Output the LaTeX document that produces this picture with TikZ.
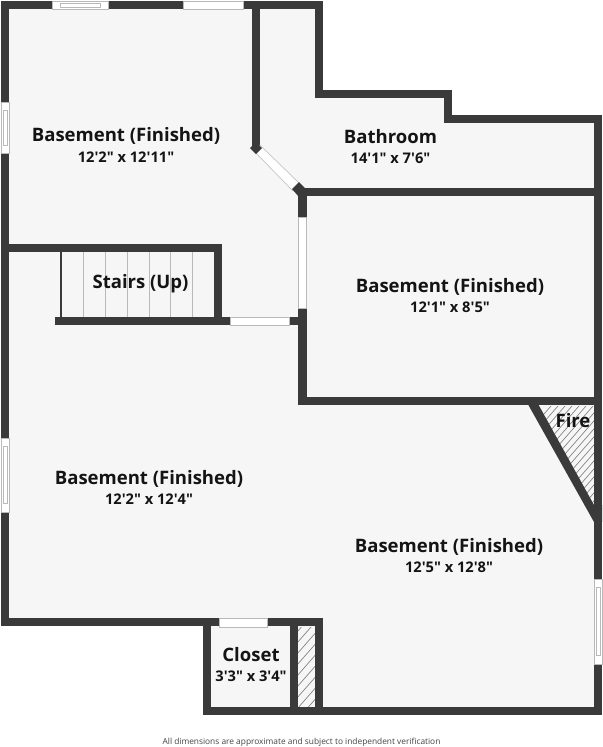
\documentclass[tikz,border=0pt]{standalone}
\usepackage{fontspec}
\setmainfont{Open Sans}[Ligatures=TeXOff]
\definecolor{wallgray}{RGB}{58,58,58}
\definecolor{floorgray}{RGB}{246,246,246}
\definecolor{edgegray}{RGB}{185,185,185}
\definecolor{textblack}{RGB}{20,20,20}
\tikzset{
  wall/.style={line width=6.4pt, draw=wallgray, line join=miter, line cap=butt},
  opening/.style={fill=white, draw=edgegray, line width=0.4pt},
  tread/.style={draw=edgegray, line width=0.6pt},
  hatchline/.style={draw=gray, line width=0.5pt},
  roomname/.style={font=\bfseries\fontsize{13.9}{15}\selectfont, text=textblack, inner sep=0pt},
  roomsize/.style={font=\bfseries\fontsize{11}{12}\selectfont, text=textblack, inner sep=0pt},
}
\begin{document}
\begin{tikzpicture}[x=0.75pt, y=-0.75pt]
  \useasboundingbox (0,0) rectangle (603,747);

  % floor
  \fill [floorgray] (5,5) -- (319,5) -- (319,94) -- (448,94) -- (448,119) -- (598,119)
    -- (598,711) -- (207,711) -- (207,622) -- (5,622) -- cycle;

  % hatched spaces
  \begin{scope}
    \clip (298,627) rectangle (315,707);
    \foreach \s in {0,11,...,121} \draw [hatchline] (290,640+\s) -- (325,600+\s);
  \end{scope}
  \begin{scope}
    \clip (537,406) -- (594,406) -- (594,505) -- cycle;
    \foreach \s in {0,8,...,176} \draw [hatchline] (530,430+\s) -- (600,350+\s);
  \end{scope}

  % stair treads
  \foreach \x in {83.3,105.3,127.3,149,170.7,192.7} \draw [tread] (\x,252) -- (\x,317);

  % outer walls
  \draw [wall] (5,5) -- (319,5) -- (319,94) -- (448,94) -- (448,119) -- (598,119)
    -- (598,711) -- (207,711) -- (207,622) -- (5,622) -- cycle;

  % inner walls
  \draw [wall] (207,622) -- (323,622);
  \draw [wall] (256,5) -- (256,148);
  \draw [wall] (298,192) -- (598,192);
  \draw [wall] (302.5,188) -- (302.5,405);
  \draw [wall] (299,401) -- (598,401);
  \draw [wall] (5,248) -- (222,248);
  \draw [wall] (218,244) -- (218,325);
  \draw [wall] (55,321) -- (298,321);
  \draw [wall, line width=1.9pt] (61.2,252) -- (61.2,317);
  \draw [wall] (294,622) -- (294,711);
  \draw [wall] (319,622) -- (319,711);
  \fill [wallgray] (526.7,402) -- (537,402) -- (594,505) -- (602,505) -- (602,522) -- (594,522) -- cycle;

  % diagonal opening with its two ends
  \draw [opening] (254,151) -- (260,145) -- (300,184) -- (293,191) -- cycle;
  \fill [wallgray] (256,142) -- (262,148) -- (256,154) -- (250,148) -- cycle;
  \fill [wallgray] (299,182) -- (306,189) -- (299,197) -- (292,189) -- cycle;

  % plain openings
  \draw [opening] (183,1) rectangle (243,9);
  \draw [opening] (298.5,217) rectangle (306.5,308);
  \draw [opening] (230,317) rectangle (289,325);
  \draw [opening] (219,618) rectangle (267,627);

  % windows along the top and the sides
  \draw [opening] (52,1) rectangle (108,9);
  \draw [opening] (60,3) rectangle (100,7);
  \draw [opening] (1,102) rectangle (9,153);
  \draw [opening] (3,110) rectangle (7,145);
  \draw [opening] (1,438) rectangle (9,512);
  \draw [opening] (3,446) rectangle (7,503);
  \draw [opening] (594,579) rectangle (602,664);
  \draw [opening] (596,587) rectangle (600,655);

  % labels
  \node [roomname] (upname) at (126,136) {Basement (Finished)};
  \node [roomsize] (upsize) at (126,157) {12'2" x 12'11"};
  \node [roomname] (bathname) at (390.5,137) {Bathroom};
  \node [roomsize] (bathsize) at (390.5,158) {14'1" x 7'6"};
  \node [roomname] (midname) at (450,287) {Basement (Finished)};
  \node [roomsize] (midsize) at (450,307) {12'1" x 8'5"};
  \node [roomname] (stairname) at (140.5,284) {Stairs (Up)};
  \node [roomname] (leftname) at (149,479) {Basement (Finished)};
  \node [roomsize] (leftsize) at (149,499) {12'2" x 12'4"};
  \node [roomname] (rightname) at (449,547) {Basement (Finished)};
  \node [roomsize] (rightsize) at (449,567) {12'5" x 12'8"};
  \node [roomname] (firename) at (573,421) {Fire};
  \node [roomname] (closetname) at (251,655) {Closet};
  \node [roomsize] (closetsize) at (251,676) {3'3" x 3'4"};
  \node [font=\fontsize{6.26}{8}\selectfont, text=textblack!80, inner sep=0pt] (footnote) at (301.5,742)
    {All dimensions are approximate and subject to independent verification};
\end{tikzpicture}
\end{document}
